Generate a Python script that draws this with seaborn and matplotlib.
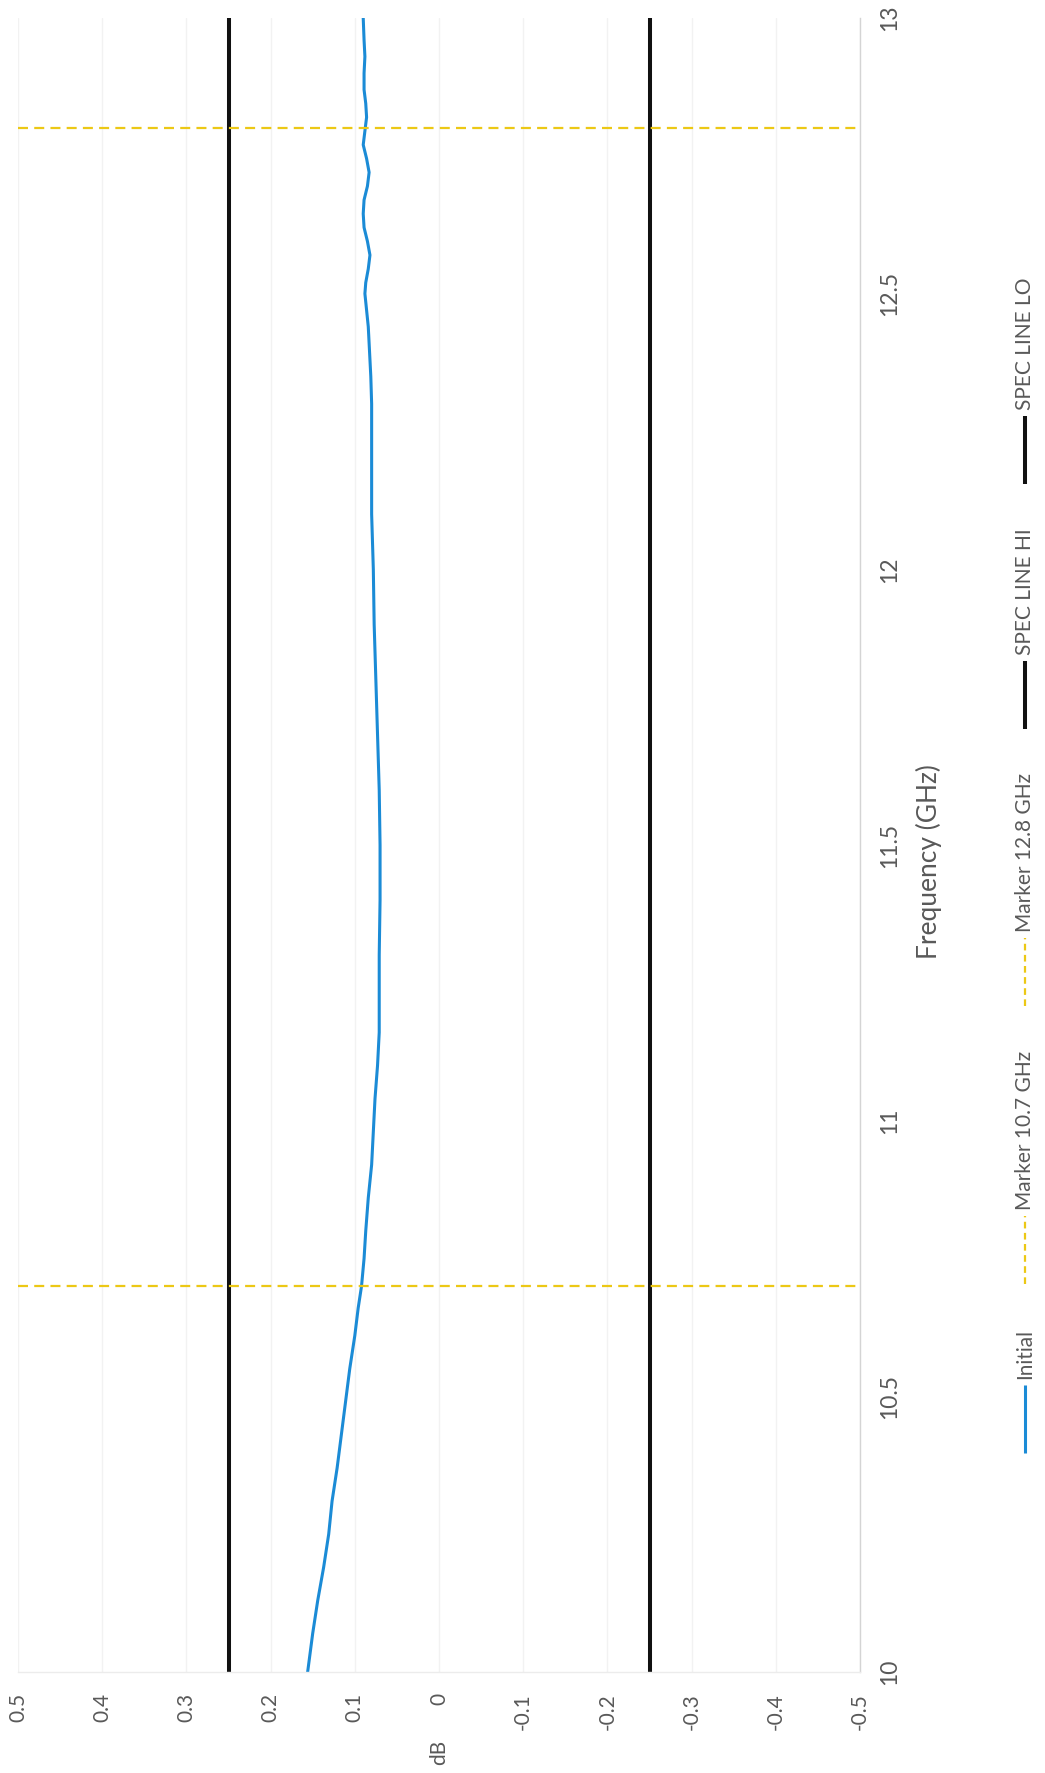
import matplotlib
matplotlib.use("Agg")
import matplotlib.pyplot as plt
from matplotlib.lines import Line2D
import pandas as pd
import seaborn as sns

# ---- measured response (frequency in GHz, level in dB) ----
freq_ghz = [10.00, 10.07, 10.13, 10.19, 10.25, 10.31, 10.37, 10.43, 10.49, 10.55,
            10.61, 10.66, 10.70, 10.75, 10.80, 10.86, 10.92, 10.98, 11.04, 11.10,
            11.16, 11.22, 11.30, 11.40, 11.50, 11.60, 11.70, 11.80, 11.90, 12.00,
            12.10, 12.20, 12.30, 12.35, 12.38, 12.41, 12.44, 12.47, 12.50, 12.52,
            12.545, 12.57, 12.595, 12.62, 12.645, 12.67, 12.695, 12.72, 12.745, 12.77,
            12.795, 12.82, 12.845, 12.87, 12.90, 12.93, 12.96, 13.00]
initial_db = [0.156, 0.150, 0.144, 0.137, 0.131, 0.127, 0.121, 0.116, 0.111, 0.106,
              0.100, 0.096, 0.092, 0.089, 0.087, 0.084, 0.080, 0.078, 0.076, 0.073,
              0.071, 0.071, 0.071, 0.070, 0.070, 0.071, 0.073, 0.075, 0.077, 0.078,
              0.080, 0.080, 0.080, 0.081, 0.082, 0.083, 0.084, 0.086, 0.088, 0.087,
              0.084, 0.082, 0.085, 0.089, 0.090, 0.089, 0.085, 0.083, 0.086, 0.090,
              0.088, 0.086, 0.087, 0.089, 0.089, 0.088, 0.089, 0.090]

# ---- limits and markers ----
spec_freq = [10.0, 13.0]
spec_hi_db = [0.25, 0.25]
spec_lo_db = [-0.25, -0.25]
marker_freqs = [10.7, 12.8]

# ---- axes ticks ----
freq_ticks = [10, 10.5, 11, 11.5, 12, 12.5, 13]
freq_tick_labels = ["10", "10.5", "11", "11.5", "12", "12.5", "13"]
db_ticks = [0.5, 0.4, 0.3, 0.2, 0.1, 0.0, -0.1, -0.2, -0.3, -0.4, -0.5]
db_tick_labels = ["0.5", "0.4", "0.3", "0.2", "0.1", "0", "-0.1", "-0.2", "-0.3", "-0.4", "-0.5"]

legend_labels = ["Initial", "Marker 10.7 GHz", "Marker 12.8 GHz", "SPEC LINE HI", "SPEC LINE LO"]

BLUE = "#1b8bd6"
GOLD = "#ecc815"
BLACK = "#111111"
TXT = "#595959"

W, H, DPI = 1045, 1773, 100

sns.set_theme(style="white")
plt.rcParams["font.family"] = ["Lato", "DejaVu Sans"]

fig = plt.figure(figsize=(W / DPI, H / DPI), dpi=DPI, facecolor="white")

# plot area in pixels (the page is laid out sideways)
L, R, T, B = 18, 860, 18, 1672
ax = fig.add_axes([L / W, 1 - B / H, (R - L) / W, (B - T) / H])

sns.lineplot(x=initial_db, y=freq_ghz, orient="y", sort=False, estimator=None,
             color=BLUE, lw=2.2, ax=ax)

spec = pd.DataFrame({
    "db": spec_hi_db + spec_lo_db,
    "freq": spec_freq + spec_freq,
    "line": ["HI", "HI", "LO", "LO"],
})
sns.lineplot(data=spec, x="db", y="freq", units="line", estimator=None, sort=False,
             color=BLACK, lw=2.9, ax=ax)

for f in marker_freqs:
    ax.axhline(f, color=GOLD, lw=1.6, dashes=(4.5, 2.8), zorder=3)

ax.set_xlim(0.5, -0.5)
ax.set_ylim(10, 13)

ax.set_xticks(db_ticks, labels=db_tick_labels, rotation=90)
ax.yaxis.tick_right()
ax.set_yticks(freq_ticks, labels=freq_tick_labels, rotation=90, va="center")
ax.tick_params(axis="x", length=0, pad=15, labelsize=15, labelcolor=TXT)
ax.tick_params(axis="y", length=0, pad=14, labelsize=16.5, labelcolor=TXT)

ax.grid(axis="x", color="#f2f2f2", lw=1)
ax.grid(axis="y", visible=False)
for side in ("left", "top"):
    ax.spines[side].set_visible(False)
ax.spines["right"].set_color("#d4d4d4")
ax.spines["right"].set_linewidth(1.0)
ax.spines["bottom"].set_color("#ececec")
ax.spines["bottom"].set_linewidth(1.0)

ax.set_xlabel("dB", fontsize=15, color=TXT, rotation=90)
ax.xaxis.set_label_coords(0.5, (B - 1752) / (B - T))
ax.xaxis.label.set_ha("center")
ax.xaxis.label.set_va("center")

ax.yaxis.set_label_position("right")
ax.set_ylabel("Frequency (GHz)", fontsize=19, color=TXT, rotation=90)
ax.yaxis.set_label_coords((929 - L) / (R - L), 0.49)
ax.yaxis.label.set_ha("center")
ax.yaxis.label.set_va("center")

# ---- legend column, stacked bottom to top ----
legend_styles = [
    dict(color=BLUE, lw=2.2),
    dict(color=GOLD, lw=1.6, dashes=(3.0, 2.0)),
    dict(color=GOLD, lw=1.6, dashes=(3.0, 2.0)),
    dict(color=BLACK, lw=2.9),
    dict(color=BLACK, lw=2.9),
]
LEG_X = 1025
leg_bottom, leg_top = 1453, 277
seg_len, txt_gap = 68, 6

renderer = fig.canvas.get_renderer()
texts = [fig.text(0, 0, lab, rotation=90, ha="center", va="bottom",
                  fontsize=15, color=TXT) for lab in legend_labels]
lens = [t.get_window_extent(renderer).height for t in texts]
fixed = sum(lens) + len(texts) * (seg_len + txt_gap)
gap = (leg_bottom - leg_top - fixed) / (len(texts) - 1)

y = leg_bottom
for style, t, ln in zip(legend_styles, texts, lens):
    fig.add_artist(Line2D([LEG_X / W] * 2, [1 - y / H, 1 - (y - seg_len) / H],
                          transform=fig.transFigure, solid_capstyle="butt", **style))
    y -= seg_len + txt_gap
    t.set_position((LEG_X / W, 1 - y / H))
    y -= ln + gap

fig.savefig("out.png", dpi=DPI, facecolor="white")
